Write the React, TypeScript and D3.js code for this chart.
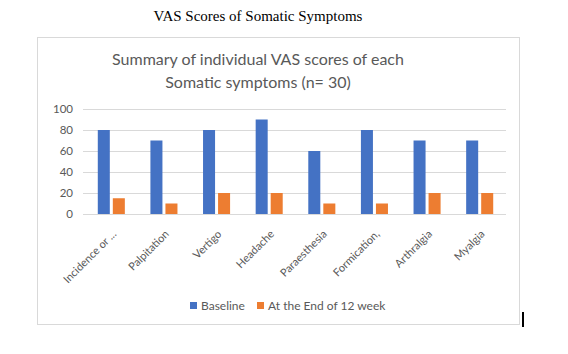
import React, { useRef, useEffect } from "react";
import * as d3 from "d3";

// categories and series
const symptoms = [
  "Incidence or ...",
  "Palpitation",
  "Vertigo",
  "Headache",
  "Paraesthesia",
  "Formication,",
  "Arthralgia",
  "Myalgia",
];
const baseline = [80, 70, 80, 90, 60, 80, 70, 70];
const endOf12Week = [15, 10, 20, 20, 10, 10, 20, 20];
const seriesNames = ["Baseline", "At the End of 12 week"];
const yTicks = [0, 20, 40, 60, 80, 100];

const App = () => {
  const svgRef = useRef<SVGSVGElement>(null);

  useEffect(() => {
    const svg = d3.select(svgRef.current);
    svg.selectAll("*").remove();

    const W = 568;
    const H = 354;
    const font = "Lato, 'Open Sans', sans-serif";
    const grey = "#595959";

    svg.attr("width", W).attr("height", H);
    svg.append("rect").attr("width", W).attr("height", H).attr("fill", "#fff");

    // page heading above the chart
    svg
      .append("text")
      .attr("x", 258)
      .attr("y", 21)
      .attr("text-anchor", "middle")
      .style("font-family", "'Liberation Serif', 'Times New Roman', serif")
      .style("font-size", "15px")
      .attr("fill", "#000")
      .text("VAS Scores of Somatic Symptoms");

    // chart frame
    svg
      .append("rect")
      .attr("x", 37.5)
      .attr("y", 37.5)
      .attr("width", 482)
      .attr("height", 287)
      .attr("fill", "#fff")
      .attr("stroke", "#d9d9d9");

    // chart title (two lines)
    const title = svg
      .append("text")
      .attr("text-anchor", "middle")
      .style("font-family", font)
      .style("font-size", "16px")
      .attr("fill", grey);
    title.append("tspan").attr("x", 258).attr("y", 65).text("Summary of individual VAS scores of each");
    title.append("tspan").attr("x", 258).attr("y", 88).text("Somatic symptoms (n= 30)");

    const plot = { left: 85, right: 506, top: 109, bottom: 214 };

    const x0 = d3
      .scaleBand()
      .domain(symptoms)
      .range([plot.left, plot.right])
      .paddingInner(0.486)
      .paddingOuter(0.243);

    const x1 = d3
      .scaleBand()
      .domain(seriesNames)
      .range([0, x0.bandwidth()])
      .paddingInner(0.2);

    const y = d3.scaleLinear().domain([0, 100]).range([plot.bottom, plot.top]);

    const color = d3.scaleOrdinal<string>().domain(seriesNames).range(["#4472c4", "#ed7d31"]);

    // gridlines
    svg
      .append("g")
      .selectAll("line")
      .data(yTicks)
      .enter()
      .append("line")
      .attr("x1", plot.left - 2)
      .attr("x2", plot.right)
      .attr("y1", (d) => Math.round(y(d)) + 0.5)
      .attr("y2", (d) => Math.round(y(d)) + 0.5)
      .attr("stroke", "#d9d9d9");

    // y axis labels
    const yAxis = svg
      .append("g")
      .attr("transform", `translate(${plot.left - 12},0)`)
      .call(d3.axisLeft(y).tickValues(yTicks).tickSize(0).tickPadding(0));
    yAxis.select(".domain").remove();
    yAxis
      .selectAll("text")
      .attr("fill", grey)
      .style("font-family", font)
      .style("font-size", "11.5px");

    // bars
    const rows = symptoms.map((s, i) => ({ s, vals: [baseline[i], endOf12Week[i]] }));
    svg
      .append("g")
      .selectAll("g")
      .data(rows)
      .enter()
      .append("g")
      .attr("transform", (d) => `translate(${x0(d.s)},0)`)
      .selectAll("rect")
      .data((d) => d.vals.map((v, j) => ({ key: seriesNames[j], v })))
      .enter()
      .append("rect")
      .attr("x", (d) => x1(d.key)!)
      .attr("y", (d) => y(d.v))
      .attr("width", x1.bandwidth())
      .attr("height", (d) => y(0) - y(d.v))
      .attr("fill", (d) => color(d.key));

    // x axis labels, rotated
    svg
      .append("g")
      .selectAll("text")
      .data(symptoms)
      .enter()
      .append("text")
      .attr("transform", (d) => `translate(${x0(d)! + x0.bandwidth() / 2 + 3},${plot.bottom + 18}) rotate(-45)`)
      .attr("text-anchor", "end")
      .attr("dy", "0.35em")
      .attr("fill", grey)
      .style("font-family", font)
      .style("font-size", "11px")
      .text((d) => d);

    // legend
    const legendX = [190, 257];
    const legend = svg
      .append("g")
      .selectAll("g")
      .data(seriesNames)
      .enter()
      .append("g")
      .attr("transform", (d, i) => `translate(${legendX[i]},302)`);
    legend
      .append("rect")
      .attr("width", 7)
      .attr("height", 7)
      .attr("fill", (d) => color(d));
    legend
      .append("text")
      .attr("x", 11)
      .attr("y", 4)
      .attr("dy", "0.35em")
      .attr("fill", grey)
      .style("font-family", font)
      .style("font-size", "12px")
      .text((d) => d);

    // stray caret mark at the bottom right of the page
    svg.append("rect").attr("x", 522).attr("y", 312).attr("width", 2).attr("height", 15).attr("fill", "#000");
  }, []);

  return <svg ref={svgRef} style={{ position: "absolute", left: 0, top: 0 }}></svg>;
};

export default App;
